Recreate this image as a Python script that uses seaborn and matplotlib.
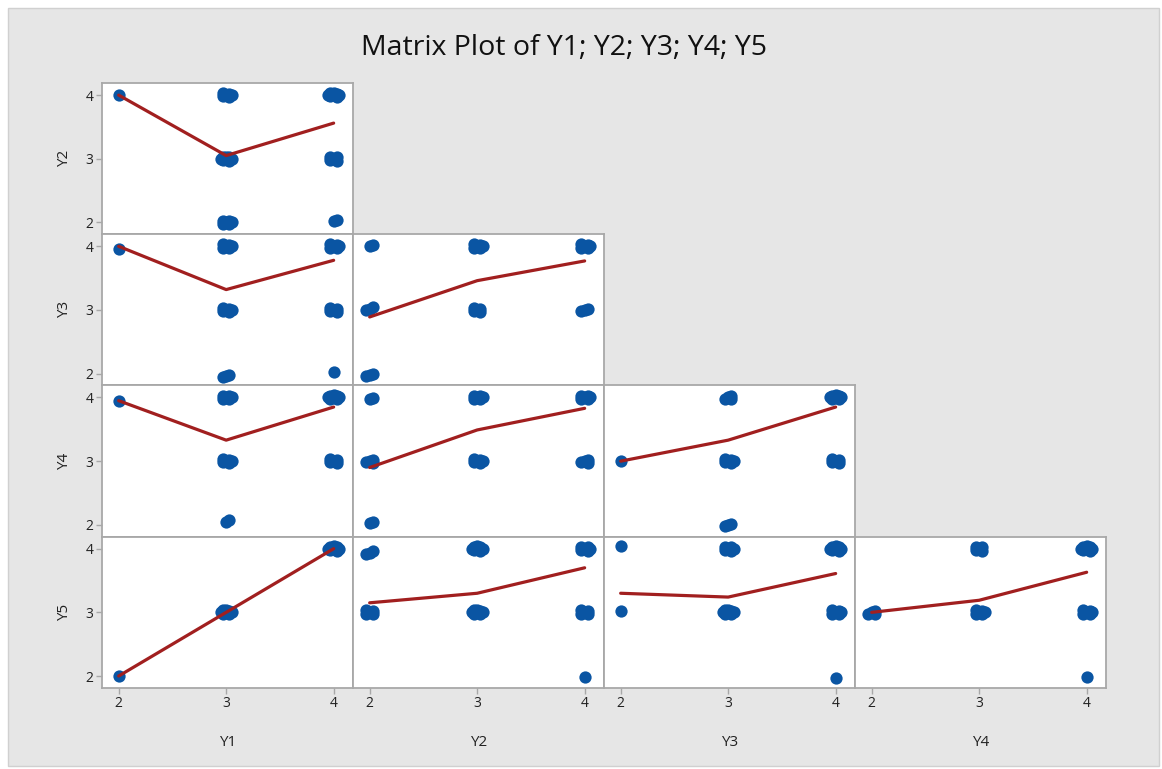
import numpy as np
import pandas as pd
import matplotlib.pyplot as plt
import seaborn as sns
from matplotlib.patches import Rectangle

# ================= DATA =================
VARS = ["Y1", "Y2", "Y3", "Y4", "Y5"]
X_LEVELS = [2, 3, 4]

# point clusters per panel: (x, y, number of overlapping points)
pts_Y2_Y1 = [(2, 4.0, 1), (3, 4.0, 6), (3, 3.0, 8), (3, 2.0, 6), (4, 4.0, 8), (4, 3.0, 5), (4, 2.02, 2)]
pts_Y3_Y1 = [(2, 3.95, 1), (3, 4.0, 6), (3, 3.0, 6), (3, 1.96, 3), (4, 4.0, 6), (4, 3.0, 5), (4, 2.03, 1)]
pts_Y3_Y2 = [(2, 4.0, 2), (2, 3.02, 3), (2, 1.98, 3), (3, 4.0, 6), (3, 3.0, 5), (4, 4.0, 6), (4, 3.0, 3)]
pts_Y4_Y1 = [(2, 3.94, 1), (3, 4.0, 6), (3, 3.0, 6), (3, 2.05, 2), (4, 4.0, 8), (4, 3.0, 5)]
pts_Y4_Y2 = [(2, 3.97, 2), (2, 3.0, 4), (2, 2.03, 2), (3, 4.0, 6), (3, 3.0, 6), (4, 4.0, 6), (4, 3.0, 4)]
pts_Y4_Y3 = [(2, 3.0, 1), (3, 4.0, 4), (3, 3.0, 6), (3, 2.0, 3), (4, 4.0, 8), (4, 3.0, 5)]
pts_Y5_Y1 = [(2, 2.0, 1), (3, 3.0, 8), (4, 4.0, 8)]
pts_Y5_Y2 = [(2, 3.94, 3), (2, 3.0, 5), (3, 4.0, 8), (3, 3.0, 8), (4, 4.0, 6), (4, 3.0, 5), (4, 1.99, 1)]
pts_Y5_Y3 = [(2, 4.04, 1), (2, 3.02, 1), (3, 4.0, 6), (3, 3.0, 8), (4, 4.0, 8), (4, 3.0, 6), (4, 1.97, 1)]
pts_Y5_Y4 = [(2, 3.0, 4), (3, 4.0, 5), (3, 3.0, 6), (4, 4.0, 8), (4, 3.0, 6), (4, 1.99, 1)]

# smoother values at x = 2, 3, 4
fit_Y2_Y1 = [4.0, 3.05, 3.56]
fit_Y3_Y1 = [4.0, 3.32, 3.78]
fit_Y3_Y2 = [2.89, 3.46, 3.77]
fit_Y4_Y1 = [3.95, 3.33, 3.85]
fit_Y4_Y2 = [2.9, 3.49, 3.83]
fit_Y4_Y3 = [3.0, 3.33, 3.85]
fit_Y5_Y1 = [2.0, 3.0, 4.0]
fit_Y5_Y2 = [3.15, 3.3, 3.7]
fit_Y5_Y3 = [3.3, 3.24, 3.61]
fit_Y5_Y4 = [3.0, 3.19, 3.63]

PANELS = {
    ("Y2", "Y1"): (pts_Y2_Y1, fit_Y2_Y1),
    ("Y3", "Y1"): (pts_Y3_Y1, fit_Y3_Y1),
    ("Y3", "Y2"): (pts_Y3_Y2, fit_Y3_Y2),
    ("Y4", "Y1"): (pts_Y4_Y1, fit_Y4_Y1),
    ("Y4", "Y2"): (pts_Y4_Y2, fit_Y4_Y2),
    ("Y4", "Y3"): (pts_Y4_Y3, fit_Y4_Y3),
    ("Y5", "Y1"): (pts_Y5_Y1, fit_Y5_Y1),
    ("Y5", "Y2"): (pts_Y5_Y2, fit_Y5_Y2),
    ("Y5", "Y3"): (pts_Y5_Y3, fit_Y5_Y3),
    ("Y5", "Y4"): (pts_Y5_Y4, fit_Y5_Y4),
}

# ================= STYLE =================
sns.set_style("white")
plt.rcParams['font.family'] = ['Open Sans', 'DejaVu Sans']

BLUE = "#0a55a3"
RED = "#a11f1f"
FRAME = "#a8a8a8"
BG = "#e6e6e6"
# fixed jitter pattern for stacked points (compact blob)
JIT_X = [0.0, 0.03, -0.03, 0.03, -0.03, 0.05, -0.05, 0.0]
JIT_Y = [0.0, 0.02, -0.02, -0.03, 0.03, 0.0, 0.0, 0.035]

W, H = 1162, 769
fig = plt.figure(figsize=(W / 100, H / 100), dpi=100)
fig.patch.set_facecolor("white")
fig.patches.append(Rectangle((8 / W, 3 / H), 1151 / W, 758 / H, transform=fig.transFigure,
                             facecolor=BG, edgecolor="#d0d0d0", lw=1, zorder=-10))

fig.text(0.485, 1 - 48 / H, "Matrix Plot of Y1; Y2; Y3; Y4; Y5", ha="center", va="center",
         fontsize=20.5, color="#111111")

left0, top0, pw, ph = 102, 83, 251, 151.2

for r, yv in enumerate(VARS[1:]):
    for c, xv in enumerate(VARS[:r + 1]):
        pts, fit = PANELS[(yv, xv)]
        rows = []
        for x, y, n in pts:
            for k in range(n):
                rows.append({xv: x + JIT_X[k], yv: y + JIT_Y[k]})
        df = pd.DataFrame(rows)
        line = pd.DataFrame({xv: X_LEVELS, yv: fit})

        ax = fig.add_axes([(left0 + c * pw) / W, 1 - (top0 + (r + 1) * ph) / H, pw / W, ph / H])
        ax.set_facecolor("white")
        sns.scatterplot(data=df, x=xv, y=yv, ax=ax, color=BLUE, s=78, edgecolor=BLUE,
                        linewidth=0, zorder=3)
        sns.lineplot(data=line, x=xv, y=yv, ax=ax, color=RED, lw=2.3, zorder=4)
        ax.set_xlim(1.845, 4.18)
        ax.set_ylim(1.815, 4.19)
        ax.set_xticks(X_LEVELS)
        ax.set_yticks(X_LEVELS)
        for sp in ax.spines.values():
            sp.set_color(FRAME)
            sp.set_linewidth(1.3)
        ax.tick_params(length=4, width=1, color=FRAME, labelsize=10, labelcolor="#222222", pad=2)

        if r == 3:
            ax.set_xlabel(xv, fontsize=11, color="#222222", labelpad=17)
            ax.tick_params(axis="x", bottom=True, labelbottom=True)
        else:
            ax.set_xlabel("")
            ax.tick_params(axis="x", bottom=False, labelbottom=False)
        if c == 0:
            ax.set_ylabel(yv, fontsize=11, color="#222222", labelpad=10)
            ax.tick_params(axis="y", left=True, labelleft=True)
        else:
            ax.set_ylabel("")
            ax.tick_params(axis="y", left=False, labelleft=False)

plt.savefig("out.png", dpi=100, facecolor=fig.get_facecolor())
